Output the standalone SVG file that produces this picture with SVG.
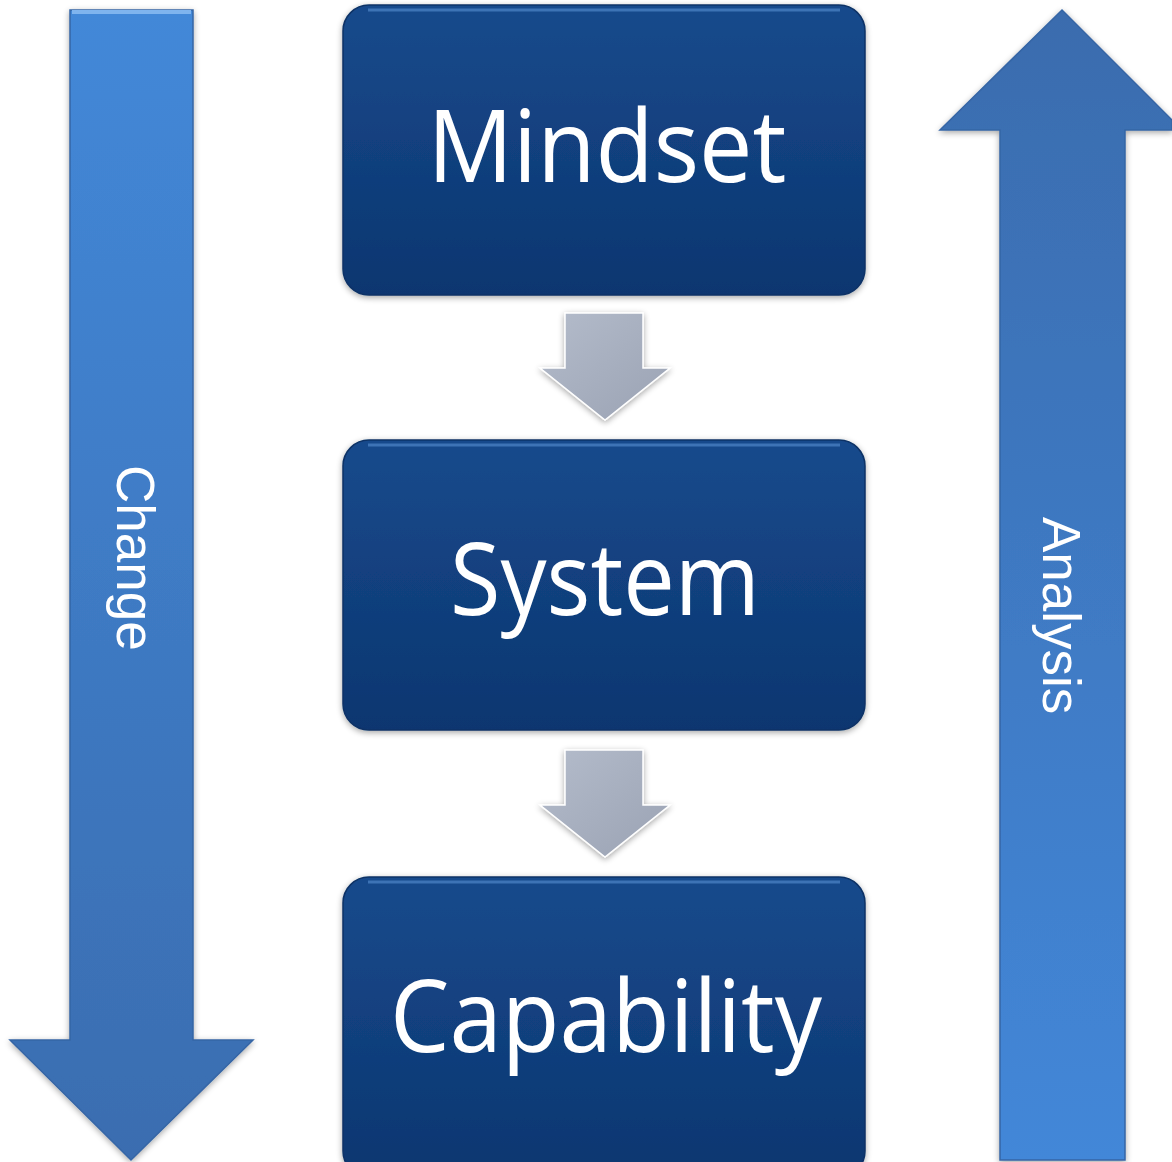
<svg xmlns="http://www.w3.org/2000/svg" width="1172" height="1162" viewBox="0 0 1172 1162">
<defs>
<linearGradient id="boxg" x1="0" y1="0" x2="0" y2="1">
<stop offset="0" stop-color="#174a8c"/>
<stop offset="1" stop-color="#0c3670"/>
</linearGradient>
<linearGradient id="leftg" x1="0" y1="0" x2="0" y2="1">
<stop offset="0" stop-color="#4388d8"/>
<stop offset="1" stop-color="#3a6db0"/>
</linearGradient>
<linearGradient id="rightg" x1="0" y1="0" x2="0" y2="1">
<stop offset="0" stop-color="#3a6cae"/>
<stop offset="1" stop-color="#4387d8"/>
</linearGradient>
<linearGradient id="grayg" x1="0" y1="0" x2="1" y2="1">
<stop offset="0" stop-color="#b4bccb"/>
<stop offset="1" stop-color="#9aa2b3"/>
</linearGradient>
<filter id="sh" x="-10%" y="-10%" width="120%" height="120%">
<feGaussianBlur in="SourceAlpha" stdDeviation="3"/>
<feOffset dx="0" dy="2"/>
<feComponentTransfer><feFuncA type="linear" slope="0.35"/></feComponentTransfer>
<feMerge><feMergeNode/><feMergeNode in="SourceGraphic"/></feMerge>
</filter>
</defs>
<style>
.box{fill:url(#boxg);stroke:#0b3266;stroke-width:1.5;filter:url(#sh)}
.hl{fill:none;stroke:#4f86c8;stroke-width:3;stroke-opacity:0.7}
.bt{font-family:"Open Sans","Liberation Sans",sans-serif;font-size:100px;fill:#ffffff;text-anchor:middle}
.at{font-family:"Liberation Sans",Arial,sans-serif;font-size:53px;fill:#ffffff}
.gray{fill:url(#grayg);stroke:#ffffff;stroke-width:1.5;filter:url(#sh)}
</style>

<g id="change-arrow">
<path d="M70,10 L193,10 L193,1040 L253,1040 L131,1160 L10,1040 L70,1040 Z" fill="url(#leftg)" stroke="#3565a5" stroke-width="1.5" filter="url(#sh)"/>
<path d="M72,12 L191,12" stroke="#7fb4ee" stroke-width="4" fill="none"/>
<text class="at" transform="translate(117,465) rotate(90)">Change</text>
</g>

<g id="analysis-arrow">
<path d="M1062,10 L1172,120 L1172,130 L1125,130 L1125,1160 L1000,1160 L1000,130 L940,130 Z" fill="url(#rightg)" stroke="#3565a5" stroke-width="1.5" filter="url(#sh)"/>
<text class="at" transform="translate(1043,517) rotate(90)">Analysis</text>
</g>

<g id="mindset">
<rect class="box" x="343" y="5" width="522" height="290" rx="26"/>
<path class="hl" d="M368,10 L840,10"/>
<text class="bt" x="607" y="182" textLength="359" lengthAdjust="spacingAndGlyphs">Mindset</text>
</g>

<g id="system">
<rect class="box" x="343" y="440" width="522" height="290" rx="26"/>
<path class="hl" d="M368,445 L840,445"/>
<text class="bt" x="605" y="615" textLength="310" lengthAdjust="spacingAndGlyphs">System</text>
</g>

<g id="capability">
<rect class="box" x="343" y="877" width="522" height="300" rx="26"/>
<path class="hl" d="M368,882 L840,882"/>
<text class="bt" x="606" y="1052" textLength="432" lengthAdjust="spacingAndGlyphs">Capability</text>
</g>

<g id="connectors">
<path class="gray" d="M565,313 L643,313 L643,368 L670,368 L605,420 L540,368 L565,368 Z"/>
<path class="gray" d="M565,750 L643,750 L643,805 L670,805 L605,857 L540,805 L565,805 Z"/>
</g>
</svg>
